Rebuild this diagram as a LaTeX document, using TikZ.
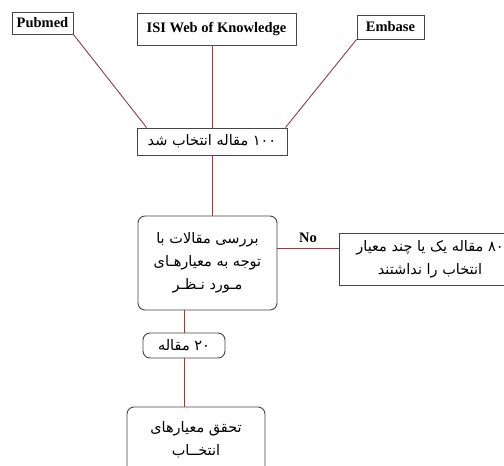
\documentclass[tikz,border=0pt]{standalone}
\usepackage{fontspec}
\setmainfont{Liberation Serif}
\newfontfamily\farsi[Script=Arabic]{DejaVu Sans}
\TeXXeTstate=1
\definecolor{linkred}{RGB}{135,65,65}
\definecolor{boxgray}{RGB}{70,70,70}
\begin{document}
\begin{tikzpicture}[x=1pt,y=-1pt,
		src/.style={draw=boxgray,line width=0.9pt,fill=white,font=\fontsize{14.5}{17}\selectfont\bfseries,inner sep=0pt},
		box/.style={draw=boxgray,line width=0.9pt,fill=white,font=\farsi\fontsize{14.5}{23}\selectfont,align=center,inner sep=0pt},
		rbox/.style={box,rounded corners=7pt},
		link/.style={draw=linkred,line width=0.9pt}]
			\useasboundingbox[fill=white] (0,0) rectangle (504,466);
			\node[src,minimum width=61,minimum height=22] at (42.5, 23) (pub) {Pubmed};
			\node[src,minimum width=159,minimum height=32] at (216.5, 29) (isi) {ISI Web of Knowledge};
			\node[src,minimum width=67,minimum height=24] at (390.5, 27) (emb) {Embase};
			\node[box,minimum width=150,minimum height=27] at (212, 141.5) (sel) {\beginR ۱۰۰ مقاله انتخاب شد\endR};
			\node[rbox,minimum width=139,minimum height=94] at (207.5, 263) (rev) {\beginR بررسی مقالات با\endR\\\beginR توجه به معیارهـای\endR\\\beginR مـورد نـظـر\endR};
			\node[box,minimum width=182,minimum height=52] at (430, 259) (excl) {\beginR ۸۰ مقاله یک یا چند معیار\endR\\\beginR انتخاب را نداشتند\endR};
			\node[rbox,minimum width=82,minimum height=25] at (184, 345.5) (twenty) {\beginR ۲۰ مقاله\endR};
			\node[rbox,minimum width=138,minimum height=66] at (196, 440) (fin) {\beginR تحقق معیارهای\endR\\\beginR انتخــاب\endR};
			\draw [link] (pub.south east) to ([xshift=10pt]sel.north west);
			\draw [link] (isi.south -| sel.north) to (sel.north);
			\draw [link] (emb.south west) to ([xshift=-2pt]sel.north east);
			\draw [link] (sel.south) to (sel.south |- rev.north);
			\draw [link] (rev.east |- 0,248) to node[above=2pt,font=\fontsize{14.5}{17}\selectfont\bfseries,text=black] (no) {No} (excl.west |- 0,248);
			\draw [link] (twenty.north |- rev.south) to (twenty.north);
			\draw [link] (twenty.south) to (twenty.south |- fin.north);
		\end{tikzpicture}
\end{document}
